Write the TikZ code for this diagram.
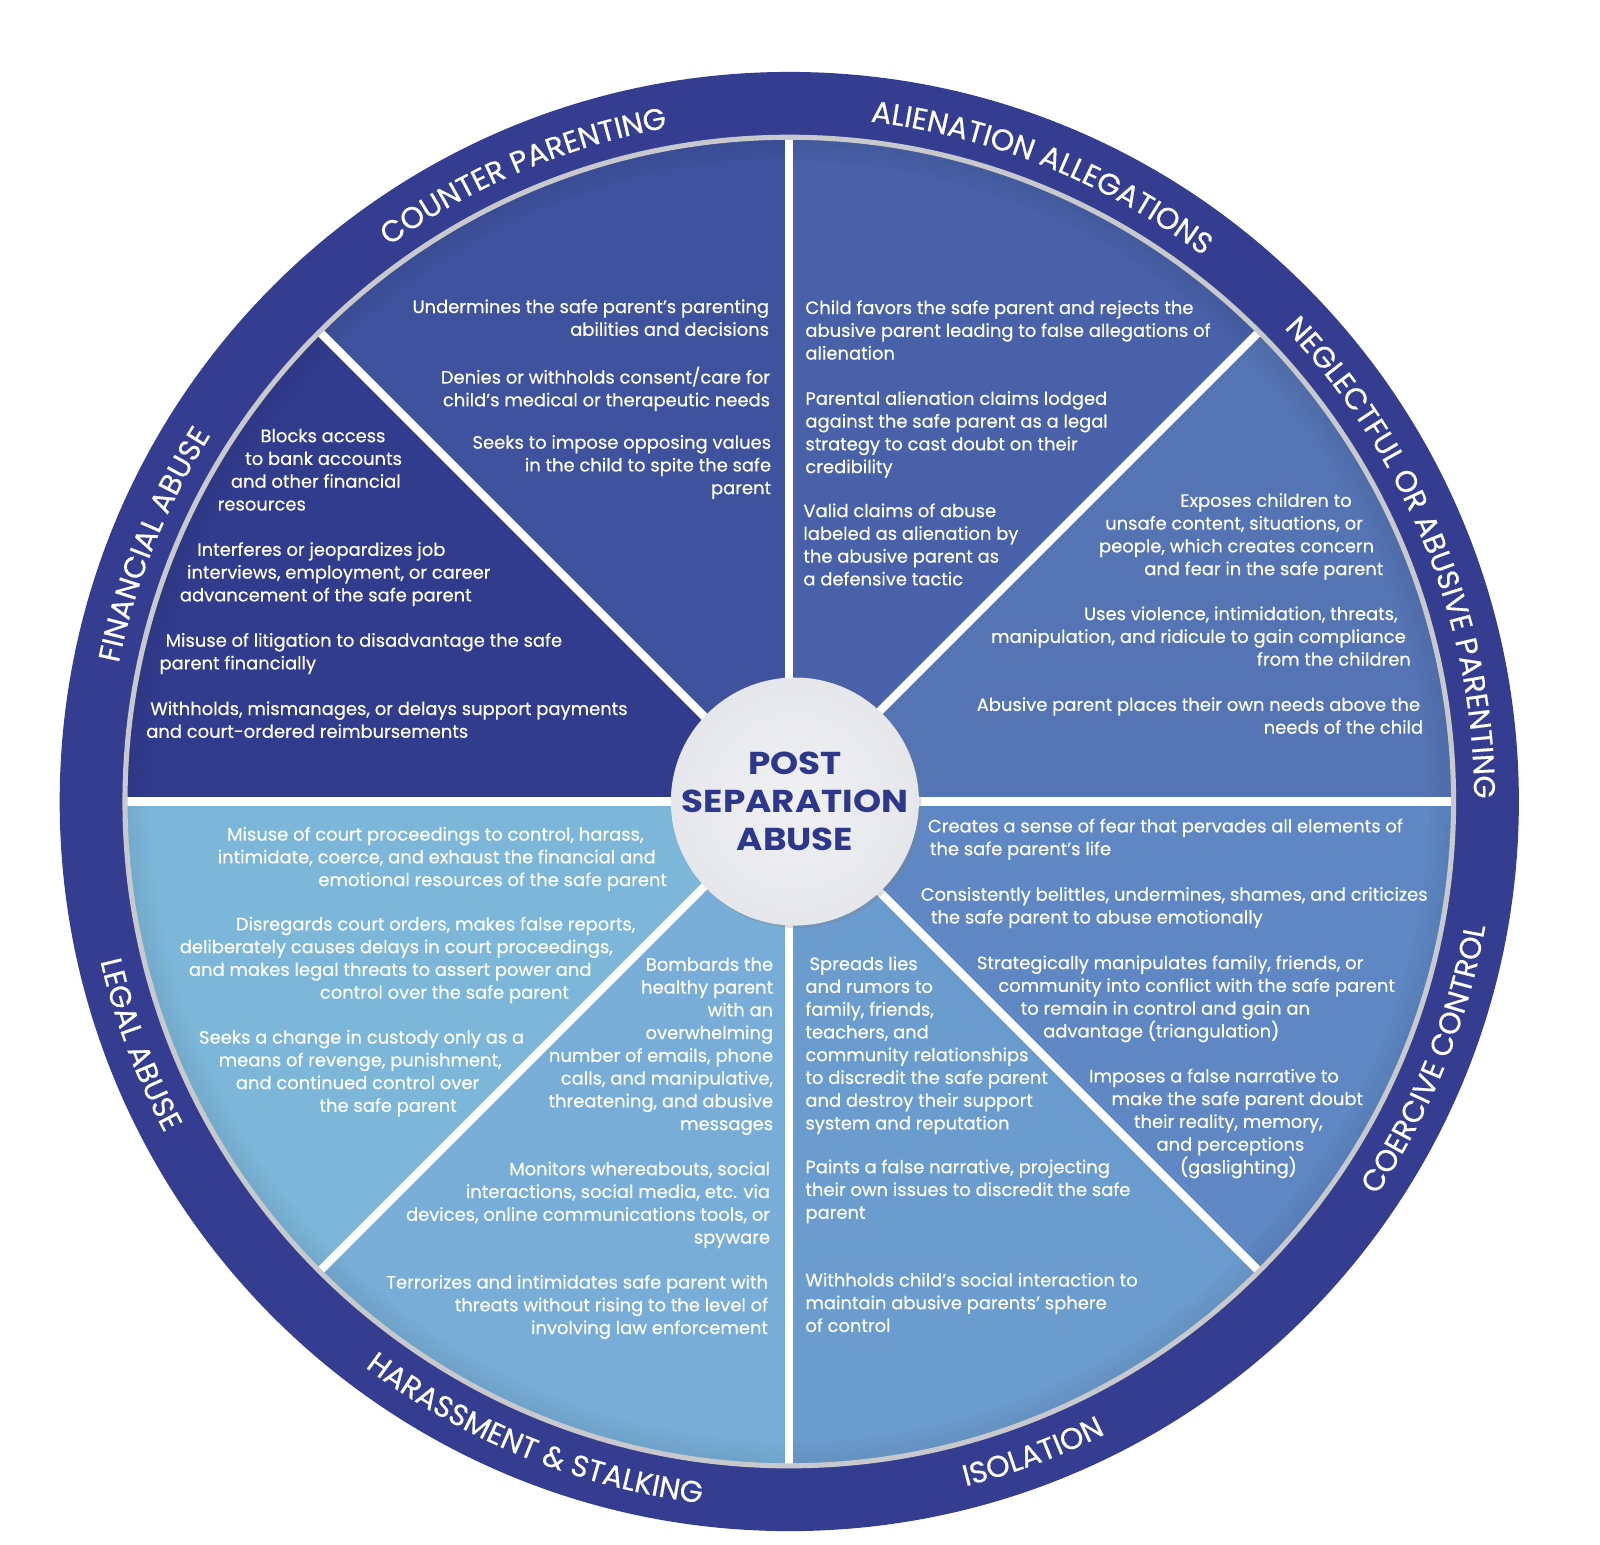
\documentclass[tikz,border=0pt]{standalone}
\usepackage{fontspec}
\setmainfont{Poppins}[FakeBold=0.4]
\newfontfamily\ringfont{Poppins}[FakeBold=0.3]
\newfontfamily\hubfont{Poppins}[FakeStretch=1.13]
\usetikzlibrary{decorations.text,shadows}

\definecolor{ringblue}{RGB}{52,61,143}
\definecolor{finblue}{RGB}{50,60,141}
\definecolor{cntblue}{RGB}{62,82,158}
\definecolor{alnblue}{RGB}{72,97,168}
\definecolor{negblue}{RGB}{85,116,180}
\definecolor{cocblue}{RGB}{94,135,195}
\definecolor{isoblue}{RGB}{107,156,206}
\definecolor{harblue}{RGB}{119,173,214}
\definecolor{legblue}{RGB}{124,182,217}
\definecolor{hubgray}{RGB}{230,231,235}
\definecolor{rimgray}{RGB}{200,201,205}
\definecolor{hubtext}{RGB}{46,56,138}

\newlength\wpx
\setlength\wpx{0.5806pt}
\newcommand\gapby[1]{\hbox to #1\wpx{}}

\begin{document}
\begin{tikzpicture}[x=0.020408cm, y=0.020408cm,
  divider/.style={white, line width=8\wpx},
  txt/.style={white, inner sep=0pt, font=\fontsize{10.2}{12.95}\selectfont},
  lt/.style={txt, align=left, anchor=north west},
  rt/.style={txt, align=right, anchor=north east},
  ringtext/.style={decorate, decoration={text along path, text align=center,
    text color=white, text={|\ringfont\fontsize{17}{20}\selectfont|#1}}}]
  \useasboundingbox (-773.5,-728.5) rectangle (794.5,785.5);

  % sectors
  \foreach \a/\c in {0/negblue,45/alnblue,90/cntblue,135/finblue,
                     180/legblue,225/harblue,270/isoblue,315/cocblue}
    \fill[\c] (0,0) -- (\a:651) arc[start angle=\a, end angle=\a+45, radius=651] -- cycle;
  % soft shadow under the rim
  \foreach \i in {0,...,11}
    \draw[black, opacity=0.06-0.005*\i, line width=2\wpx] (0,0) circle[radius=649-2*\i];
  \foreach \a in {0,45,...,315}
    \draw[divider] (0,0) -- (\a:650);

  % outer ring
  \fill[ringblue, even odd rule] (0,0) circle[radius=715] (0,0) circle[radius=652];
  \draw[rimgray, line width=5\wpx] (0,0) circle[radius=651];

  % ring labels
  \path[ringtext={COUNTER PARENTING}] (163:671) arc[start angle=163, end angle=63, radius=671];
  \path[ringtext={ALIENATION ALLEGATIONS}] (118:671) arc[start angle=118, end angle=18, radius=671];
  \path[ringtext={NEGLECTFUL OR ABUSIVE PARENTING}] (80:671) arc[start angle=80, end angle=-36, radius=671];
  \path[ringtext={FINANCIAL ABUSE}] (208:671) arc[start angle=208, end angle=108, radius=671];
  \path[ringtext={LEGAL ABUSE}] (150:693) arc[start angle=150, end angle=251, radius=693];
  \path[ringtext={HARASSMENT {\&} STALKING}] (198:693) arc[start angle=198, end angle=298, radius=693];
  \path[ringtext={ISOLATION}] (240:693) arc[start angle=240, end angle=341, radius=693];
  \path[ringtext={COERCIVE CONTROL}] (288:693) arc[start angle=288, end angle=388, radius=693];

  % hub
  \node[circle, minimum size=243\wpx, inner sep=0pt, inner color=hubgray!60!white,
    outer color=hubgray, drop shadow={opacity=0.25, shadow xshift=1.5pt, shadow yshift=-1.5pt}]
    (hub) at (5.5,0) {};
  \node[text=hubtext, align=center, font=\hubfont\fontsize{18}{21.5}\selectfont\bfseries]
    (hubtitle) at (hub.center) {POST\\SEPARATION\\ABUSE};

  \begin{scope}[shift={(-773.5,785.5)}, y=-0.020408cm]
    % counter parenting
    \node[rt] (cp1) at (754,293) {Undermines the safe parent’s parenting\\abilities and decisions};
    \node[rt] (cp2) at (755,359) {Denies or withholds consent/care for\\child’s medical or therapeutic needs};
    \node[rt] (cp3) at (756,426) {Seeks to impose opposing values\\in the child to spite the safe\\parent};
    % financial abuse
    \node[lt] (fa1) at (213,420) {\gapby{42}Blocks access\\\gapby{27}to bank accounts\\\gapby{13}and other financial\\resources};
    \node[lt] (fa2) at (176,531) {\gapby{17}Interferes or jeopardizes job\\\gapby{7}interviews, employment, or career\\advancement of the safe parent};
    \node[lt] (fa3) at (156,620) {\gapby{6}Misuse of litigation to disadvantage the safe\\parent financially};
    \node[lt] (fa4) at (143,687) {\gapby{4}Withholds, mismanages, or delays support payments\\and court-ordered reimbursements};
    % alienation allegations
    \node[lt] (aa1) at (789,294) {Child favors the safe parent and rejects the\\abusive parent leading to false allegations of\\alienation};
    \node[lt] (aa2) at (789,383) {Parental alienation claims lodged\\against the safe parent as a legal\\strategy to cast doubt on their\\credibility};
    \node[lt] (aa3) at (787,493) {Valid claims of abuse\\labeled as alienation by\\the abusive parent as\\a defensive tactic};
    % neglectful or abusive parenting
    \node[rt] (na1) at (1356,483) {Exposes children to\gapby{31}\\unsafe content, situations, or\gapby{20}\\people, which creates concern\gapby{9}\\and fear in the safe parent};
    \node[rt] (na2) at (1383,594) {Uses violence, intimidation, threats,\gapby{13}\\manipulation, and ridicule to gain compliance\gapby{5}\\from the children};
    \node[rt] (na3) at (1395,683) {Abusive parent places their own needs above the\gapby{3}\\needs of the child};
    % coercive control
    \node[lt] (cc1) at (909,802) {Creates a sense of fear that pervades all elements of\\\gapby{2}the safe parent’s life};
    \node[lt] (cc2) at (902,869) {Consistently belittles, undermines, shames, and criticizes\\\gapby{10}the safe parent to abuse emotionally};
    \node[lt] (cc3) at (957,936) {Strategically manipulates family, friends, or\\\gapby{21}community into conflict with the safe parent\\\gapby{43}to remain in control and gain an\\\gapby{65}advantage (triangulation)};
    \node[lt] (cc4) at (1067,1047) {Imposes a false narrative to\\\gapby{22}make the safe parent doubt\\\gapby{44}their reality, memory,\\\gapby{66}and perceptions\\\gapby{89}(gaslighting)};
    % isolation
    \node[lt] (is1) at (789,937) {\gapby{4}Spreads lies\\and rumors to\\family, friends,\\teachers, and\\community relationships\\to discredit the safe parent\\and destroy their support\\system and reputation};
    \node[lt] (is2) at (789,1136) {Paints a false narrative, projecting\\their own issues to discredit the safe\\parent};
    \node[lt] (is3) at (789,1247) {Withholds child’s social interaction to\\maintain abusive parents’ sphere\\of control};
    % harassment and stalking
    \node[rt] (hs1) at (758,938) {Bombards the\\healthy parent\\with an\\overwhelming\\number of emails, phone\\calls, and manipulative,\\threatening, and abusive\\messages};
    \node[rt] (hs2) at (755,1138) {Monitors whereabouts, social\\interactions, social media, etc. via\\devices, online communications tools, or\\spyware};
    \node[rt] (hs3) at (753,1249) {Terrorizes and intimidates safe parent with\\threats without rising to the level of\\involving law enforcement};
    % legal abuse
    \node[rt] (la1) at (654,810) {Misuse of court proceedings to control, harass,\gapby{23}\\intimidate, coerce, and exhaust the financial and\gapby{11}\\emotional resources of the safe parent};
    \node[rt] (la2) at (623,898) {Disregards court orders, makes false reports,\\deliberately causes delays in court proceedings,\gapby{22}\\and makes legal threats to assert power and\gapby{43}\\control over the safe parent\gapby{65}};
    \node[rt] (la3) at (514,1009) {Seeks a change in custody only as a\\means of revenge, punishment,\gapby{22}\\and continued control over\gapby{44}\\the safe parent\gapby{66}};
  \end{scope}
\end{tikzpicture}
\end{document}
